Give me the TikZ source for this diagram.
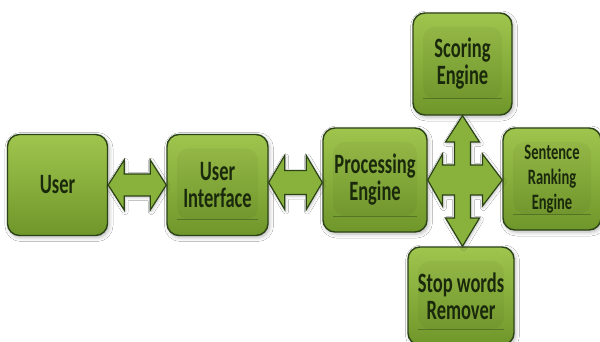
\documentclass[tikz,border=0pt]{standalone}
\usepackage{fontspec}
\newfontfamily\boxfont{Carlito}[FakeStretch=0.66]
\usetikzlibrary{positioning,calc,shadows.blur}
\definecolor{boxtop}{HTML}{A0C54E}
\definecolor{boxbot}{HTML}{6F962A}
\definecolor{boxline}{HTML}{2C4318}
\definecolor{arrowfill}{HTML}{88B23C}
\definecolor{boxtext}{HTML}{1A290C}
\tikzstyle{box}=[rectangle,rounded corners=12pt,minimum width=100pt,minimum height=101pt,align=center,draw=boxline,line width=1.4pt,top color=boxtop,bottom color=boxbot,text=boxtext,font=\boxfont\bfseries\fontsize{28pt}{27pt}\selectfont,blur shadow={shadow xshift=1.5pt,shadow yshift=-2pt,shadow blur radius=4pt,shadow opacity=30}]
\tikzstyle{bevel}=[path picture={
  \fill[black,opacity=0.04] ([xshift=10pt,yshift=16pt]path picture bounding box.south west) rectangle ([xshift=-10pt,yshift=-14pt]path picture bounding box.north east);
  \draw[boxline,opacity=0.45,line width=1pt] ([xshift=10pt,yshift=16pt]path picture bounding box.south west) -- ([xshift=-10pt,yshift=16pt]path picture bounding box.south east);}]
\tikzstyle{smalltext}=[font=\boxfont\bfseries\fontsize{22pt}{25pt}\selectfont]
\tikzstyle{blockarrow}=[draw=boxline,line width=1.2pt,fill=arrowfill,line join=miter,blur shadow={shadow xshift=1pt,shadow yshift=-1.5pt,shadow blur radius=3pt,shadow opacity=25}]

\begin{document}
\begin{tikzpicture}[x=1pt,y=-1pt,node distance=160pt]
  \fill[white] (0,0) rectangle (600,342);
  \useasboundingbox (0,0) rectangle (600,342);
  \node (user)[box] at (57.5,185) {User};
  \node (ui)[box,bevel,right of=user,minimum width=101pt]{User\\Interface};
  \node (proc)[box,bevel,right of=ui,xshift=-2.5pt,yshift=5pt,minimum width=104pt,minimum height=104pt]{Processing\\Engine};
  \node (sent)[box,bevel,smalltext,right of=proc,xshift=17pt,yshift=1pt,minimum width=98pt,minimum height=102pt]{Sentence\\Ranking\\Engine};
  \node (scoring)[box,bevel,above of=proc,xshift=87.5pt,yshift=-44pt,minimum width=99pt,minimum height=102pt]{Scoring\\Engine};
  \node (stop)[box,bevel,below of=proc,xshift=86pt,yshift=44pt,minimum width=106pt,minimum height=98pt]{Stop words\\Remover};
  \draw[blockarrow] let \p1=(user.east), \p2=(ui.west), \p3=($(user.east)!0.5!(ui.west)$) in
    (\x1,\y3) -- (\x1+16pt,\y3+25pt) -- (\x1+16pt,\y3+11pt) -- (\x2-16pt,\y3+11pt) -- (\x2-16pt,\y3+25pt) -- (\x2,\y3)
    -- (\x2-16pt,\y3-25pt) -- (\x2-16pt,\y3-11pt) -- (\x1+16pt,\y3-11pt) -- (\x1+16pt,\y3-25pt) -- cycle;
  \draw[blockarrow] let \p1=(ui.east), \p2=(proc.west), \p3=($(ui.east)!0.5!(proc.west)$) in
    (\x1,\y3) -- (\x1+16pt,\y3+27pt) -- (\x1+16pt,\y3+12pt) -- (\x2-16pt,\y3+12pt) -- (\x2-16pt,\y3+27pt) -- (\x2,\y3)
    -- (\x2-16pt,\y3-27pt) -- (\x2-16pt,\y3-12pt) -- (\x1+16pt,\y3-12pt) -- (\x1+16pt,\y3-27pt) -- cycle;
  \draw[blockarrow] let \p1=(proc.east), \p2=(sent.west), \p3=(scoring.south), \p4=(stop.north) in
    (\x3,\y3) -- (\x3+17pt,\y1+38pt) -- (\x3+8pt,\y1+38pt) -- (\x3+8pt,\y1+15pt) -- (\x3+20pt,\y1+15pt) -- (\x3+20pt,\y1+26pt)
    -- (\x2,\y1) -- (\x3+20pt,\y1-26pt) -- (\x3+20pt,\y1-15pt) -- (\x3+8pt,\y1-15pt) -- (\x3+8pt,\y1-38pt) -- (\x3+17pt,\y1-38pt)
    -- (\x3,\y4) -- (\x3-17pt,\y1-38pt) -- (\x3-8pt,\y1-38pt) -- (\x3-8pt,\y1-15pt) -- (\x3-20pt,\y1-15pt) -- (\x3-20pt,\y1-26pt)
    -- (\x1,\y1) -- (\x3-20pt,\y1+26pt) -- (\x3-20pt,\y1+15pt) -- (\x3-8pt,\y1+15pt) -- (\x3-8pt,\y1+38pt) -- (\x3-17pt,\y1+38pt) -- cycle;
\end{tikzpicture}
\end{document}
